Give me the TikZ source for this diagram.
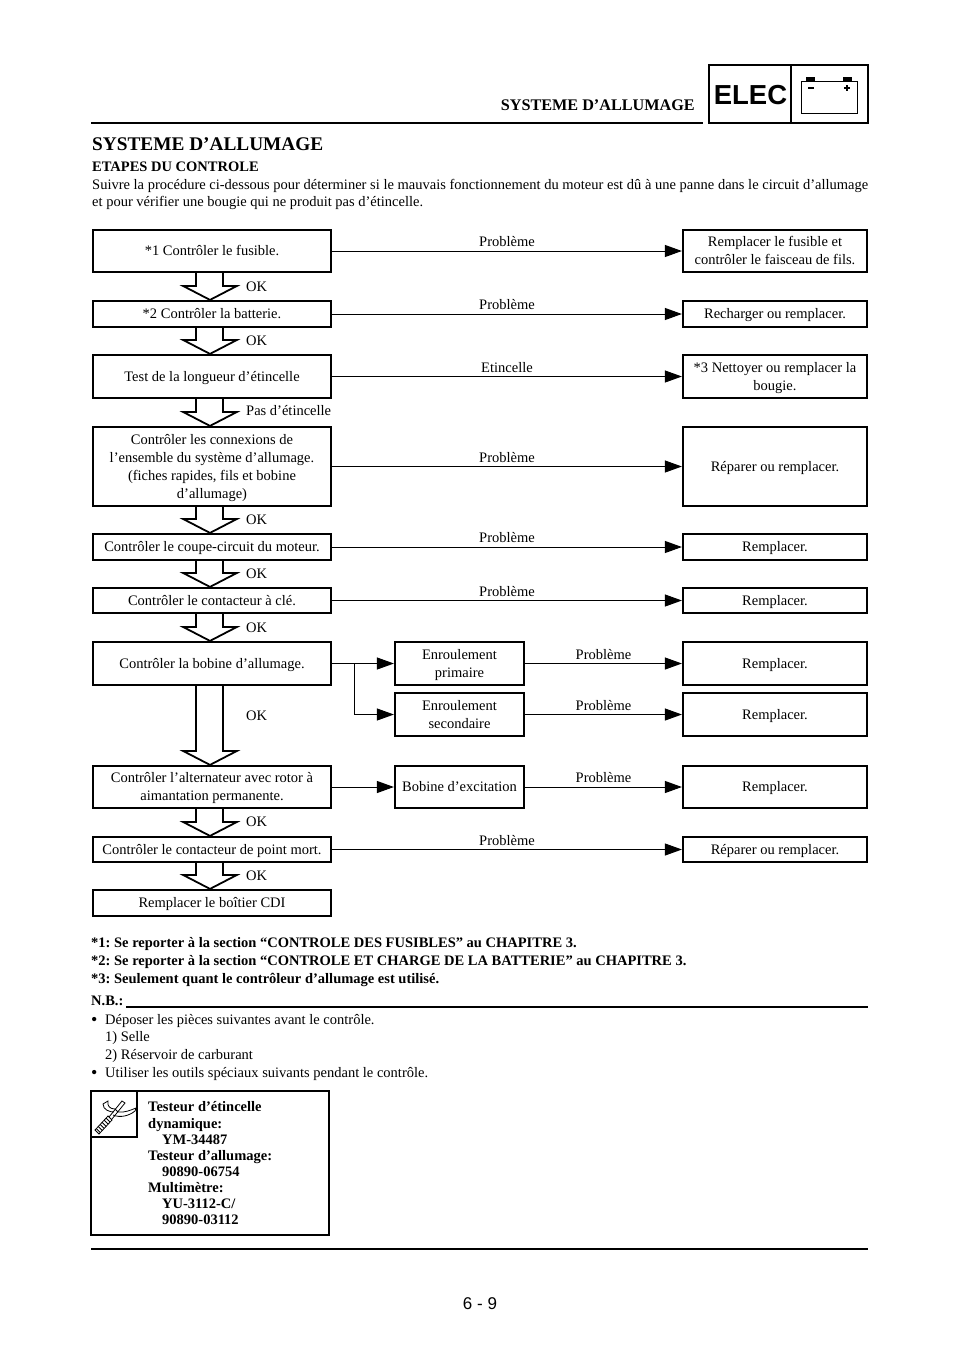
\documentclass[tikz,border=0pt]{standalone}
\usepackage{fontspec}
\setmainfont{Liberation Serif}
\newfontfamily\arialfont{Liberation Sans}
\usetikzlibrary{arrows.meta,calc}
\frenchspacing
\tikzset{
  box/.style={draw,line width=2.2pt,inner sep=0pt,align=center,text depth=0.6pt,font=\fontsize{14.5}{18}\selectfont},
  leftbox/.style={box,minimum width=238pt},
  rightbox/.style={box,minimum width=184pt},
  midbox/.style={box,minimum width=129pt},
  link/.style={line width=1pt,-{Triangle[length=17pt,width=12pt]}},
  plain/.style={line width=1pt},
  downarr/.style={line width=1.8pt,line join=miter},
  rulebar/.style={line width=2.4pt},
  lab/.style={font=\fontsize{14.5}{18}\selectfont,inner sep=3.5pt},
  txt/.style={anchor=base west,inner sep=0pt,font=\fontsize{14.5}{18}\selectfont},
  btxt/.style={txt,font=\fontsize{14.5}{18}\selectfont\bfseries}
}
\begin{document}
\begin{tikzpicture}[x=1pt,y=-1pt]
\useasboundingbox (0,0) rectangle (960,1358);
% header
\draw[rulebar] (91,123)--(703,123);
\node[anchor=base east,inner sep=0pt,font=\fontsize{16.2}{18}\selectfont\bfseries] (headtxt) at (695,110.5) {SYSTEME D’ALLUMAGE};
\draw[line width=2.4pt] (709,65) rectangle (868,123);
\draw[line width=2.4pt] (791,65)--(791,123);
\node[anchor=center,inner sep=0pt,font=\arialfont\fontsize{27.5}{28}\selectfont\bfseries] (elec) at (750.5,95.5) {ELEC};
\draw[line width=0.8pt] (801,81) rectangle (857,113);
\fill (806,77) rectangle (815,81);
\fill (843,77) rectangle (852,81);
\draw[line width=1.2pt] (808,88)--(814,88);
\draw[line width=1.2pt] (844,88)--(850,88) (847,85)--(847,91);
% intro
\node[txt,font=\fontsize{19.3}{22}\selectfont\bfseries] (title) at (92,150) {SYSTEME D’ALLUMAGE};
\node[btxt] (etapes) at (92,171) {ETAPES DU CONTROLE};
\node[anchor=north west,inner sep=0pt,text width=776pt,align=justify,font=\fontsize{14.5}{17.5}\selectfont] (intro) at (92,179) {Suivre la procédure ci-dessous pour déterminer si le mauvais fonctionnement du moteur est dû à une panne dans le circuit d’allumage et pour vérifier une bougie qui ne produit pas d’étincelle.};
% left column
\node[leftbox,minimum height=42pt] (fuse) at (212,251) {*1 Contrôler le fusible.};
\node[leftbox,minimum height=26pt] (batt) at (212,314) {*2 Contrôler la batterie.};
\node[leftbox,minimum height=43pt] (spark) at (212,376.5) {Test de la longueur d’étincelle};
\node[leftbox,minimum height=79pt] (conn) at (212,466.5) {Contrôler les connexions de\\l’ensemble du système d’allumage.\\(fiches rapides, fils et bobine\\d’allumage)};
\node[leftbox,minimum height=26pt] (cut) at (212,547) {Contrôler le coupe-circuit du moteur.};
\node[leftbox,minimum height=25pt] (key) at (212,600.5) {Contrôler le contacteur à clé.};
\node[leftbox,minimum height=43pt] (coil) at (212,663.5) {Contrôler la bobine d’allumage.};
\node[leftbox,minimum height=42pt] (alt) at (212,787) {Contrôler l’alternateur avec rotor à\\aimantation permanente.};
\node[leftbox,minimum height=25pt] (neutral) at (212,849.5) {Contrôler le contacteur de point mort.};
\node[leftbox,minimum height=26pt] (cdi) at (212,903) {Remplacer le boîtier CDI};
% middle column
\node[midbox,minimum height=43pt] (prim) at (459.5,663.5) {Enroulement\\primaire};
\node[midbox,minimum height=43pt] (sec) at (459.5,714.5) {Enroulement\\secondaire};
\node[midbox,minimum height=42pt] (exc) at (459.5,787) {Bobine d’excitation};
% right column
\node[rightbox,minimum height=42pt] (rfuse) at (775,251) {Remplacer le fusible et\\contrôler le faisceau de fils.};
\node[rightbox,minimum height=26pt] (rbatt) at (775,314) {Recharger ou remplacer.};
\node[rightbox,minimum height=43pt] (rspark) at (775,376.5) {*3 Nettoyer ou remplacer la\\bougie.};
\node[rightbox,minimum height=79pt] (rconn) at (775,466.5) {Réparer ou remplacer.};
\node[rightbox,minimum height=26pt] (rcut) at (775,547) {Remplacer.};
\node[rightbox,minimum height=25pt] (rkey) at (775,600.5) {Remplacer.};
\node[rightbox,minimum height=43pt] (rprim) at (775,663.5) {Remplacer.};
\node[rightbox,minimum height=43pt] (rsec) at (775,714.5) {Remplacer.};
\node[rightbox,minimum height=42pt] (rexc) at (775,787) {Remplacer.};
\node[rightbox,minimum height=25pt] (rneutral) at (775,849.5) {Réparer ou remplacer.};
% links
\foreach \from/\to/\word in {fuse/rfuse/Problème,batt/rbatt/Problème,spark/rspark/Etincelle,conn/rconn/Problème,cut/rcut/Problème,key/rkey/Problème,neutral/rneutral/Problème,prim/rprim/Problème,sec/rsec/Problème,exc/rexc/Problème}
  \draw[link](\from.east)--(\to.west)node[pos=0.5,above,lab](w\from){\word};
\draw[link](coil.east)--(prim.west);
\draw[plain](coil.east)-|(354,663.5)coordinate(fork);
\draw[link](fork)|-(sec.west);
\draw[link](alt.east)--(exc.west);
% down arrows
\foreach \from/\to in {fuse/batt,batt/spark,spark/conn,conn/cut,cut/key,key/coil,coil/alt,alt/neutral,neutral/cdi}
  \draw[downarr]([xshift=-16pt]\from.south)--([xshift=-16pt,yshift=14pt]\to.north)--([xshift=-29pt,yshift=14pt]\to.north)--([xshift=-2pt]\to.north)--([xshift=25pt,yshift=14pt]\to.north)--([xshift=11pt,yshift=14pt]\to.north)--([xshift=11pt]\from.south);
\foreach \name/\y/\word in {a/287/OK,b/341/OK,c/411/Pas d’étincelle,d/520/OK,e/574/OK,f/628/OK,g/716/OK,h/822/OK,i/876/OK}
  \node[lab,anchor=west,inner sep=0pt](ok\name)at(246,\y){\word};
% notes
\node[btxt] (noteA) at (91,947) {*1: Se reporter à la section “CONTROLE DES FUSIBLES” au CHAPITRE 3.};
\node[btxt] (noteB) at (91,965) {*2: Se reporter à la section “CONTROLE ET CHARGE DE LA BATTERIE” au CHAPITRE 3.};
\node[btxt] (noteC) at (91,983) {*3: Seulement quant le contrôleur d’allumage est utilisé.};
\node[btxt] (nb) at (91,1005.5) {N.B.:};
\draw[rulebar] (126,1007)--(868,1007);
\node[txt,font=\fontsize{18}{18}\selectfont] (bulA) at (91,1025) {•};
\node[txt] (lineA) at (105,1024) {Déposer les pièces suivantes avant le contrôle.};
\node[txt] (lineB) at (105,1041.5) {1) Selle};
\node[txt] (lineC) at (105,1059) {2) Réservoir de carburant};
\node[txt,font=\fontsize{18}{18}\selectfont] (bulB) at (91,1078) {•};
\node[txt] (lineD) at (105,1077) {Utiliser les outils spéciaux suivants pendant le contrôle.};
% tool box
\draw[line width=2.4pt] (91,1091) rectangle (329,1235);
\draw[line width=2.4pt] (91,1137)--(137,1137)--(137,1091);
\draw[line width=0.8pt] (95,1130)--(108,1116)--(112,1120)--(99,1134)--cycle;
\foreach \t in {0.1,0.25,0.4,0.55,0.7,0.85}
  \draw[line width=0.9pt] ($(95,1130)!\t!(108,1116)$)--($(99,1134)!\t!(112,1120)$);
\draw[line width=0.8pt] (109,1117)--(122,1101)--(125,1103)--(112,1119);
\draw[line width=0.8pt] (114,1112) .. controls (110,1112) and (103,1110) .. (103,1104) -- (108,1101) .. controls (107,1106) and (110,1109) .. (115,1109) -- (118,1112) .. controls (124,1113) and (131,1110) .. (136,1108) -- (135,1111) .. controls (129,1116) and (120,1118) .. (113,1115);
\node[btxt] (toolA) at (148,1111) {Testeur d’étincelle};
\node[btxt] (toolB) at (148,1128) {dynamique:};
\node[btxt] (toolC) at (162,1144) {YM-34487};
\node[btxt] (toolD) at (148,1160) {Testeur d’allumage:};
\node[btxt] (toolE) at (162,1176) {90890-06754};
\node[btxt] (toolF) at (148,1192) {Multimètre:};
\node[btxt] (toolG) at (162,1208) {YU-3112-C/};
\node[btxt] (toolH) at (162,1224) {90890-03112};
\draw[rulebar] (91,1249)--(868,1249);
\node[anchor=center,inner sep=0pt,font=\arialfont\fontsize{17}{20}\selectfont] (page) at (480,1304) {6 - 9};
\end{tikzpicture}
\end{document}
